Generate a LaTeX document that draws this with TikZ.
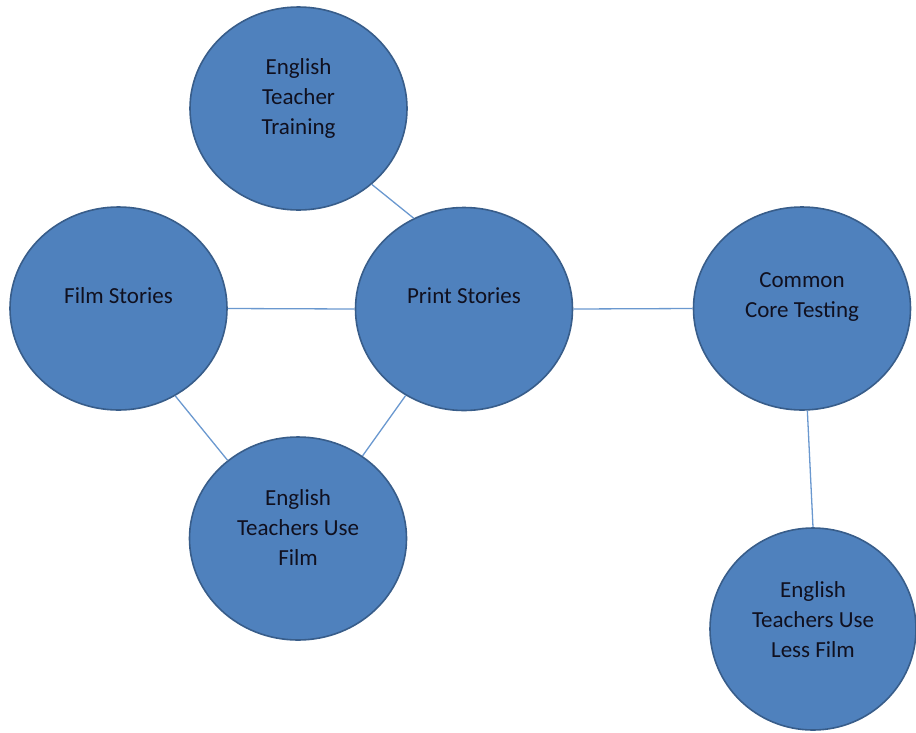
\documentclass[tikz,border=0pt]{standalone}
\usepackage{fontspec}
\setmainfont{Carlito}
\usetikzlibrary{shapes.geometric}
\definecolor{bubblefill}{HTML}{4F81BD}
\definecolor{bubbleline}{HTML}{385D8A}
\definecolor{linkcol}{HTML}{6A98CF}
\definecolor{txtcol}{HTML}{10101F}
\tikzset{
  bubble/.style={ellipse, draw=bubbleline, line width=1.6pt, fill=bubblefill,
    inner sep=0pt, minimum width=217pt, minimum height=203pt},
  btext/.style={align=center, text=txtcol, font=\fontsize{23}{30}\selectfont, inner sep=0pt},
  link/.style={draw=linkcol, line width=1.3pt}
}
\begin{document}
\begin{tikzpicture}[x=1pt,y=-1pt]
\useasboundingbox (0,0) rectangle (916,732);
\node[bubble] (ett) at (298.5,108.5) {};
\node[bubble] (film) at (118.5,308.5) {};
\node[bubble] (print) at (464,309) {};
\node[bubble] (cc) at (802,308.5) {};
\node[bubble] (use) at (298,538.5) {};
\node[bubble, minimum width=206pt, minimum height=202pt] (less) at (813,629) {};

\draw[link] (ett.-46.5) -- (print.119);
\draw[link] (film.east) -- (print.west);
\draw[link] (print.east) -- (cc.west);
\draw[link] (film.-57) -- (use.132.5);
\draw[link] (print.-124.4) -- (use.52.4);
\draw[link] (cc.-87) -- (less.north);

\node[btext] (ettT) at (298.5,98) {English\\Teacher\\Training};
\node[btext] (filmT) at (118.5,296) {Film Stories};
\node[btext] (printT) at (464,296) {Print Stories};
\node[btext] (ccT) at (802,297) {Common\\Core Testing};
\node[btext] (useT) at (298,528) {English\\Teachers Use\\Film};
\node[btext] (lessT) at (813,620) {English\\Teachers Use\\Less Film};
\end{tikzpicture}
\end{document}
